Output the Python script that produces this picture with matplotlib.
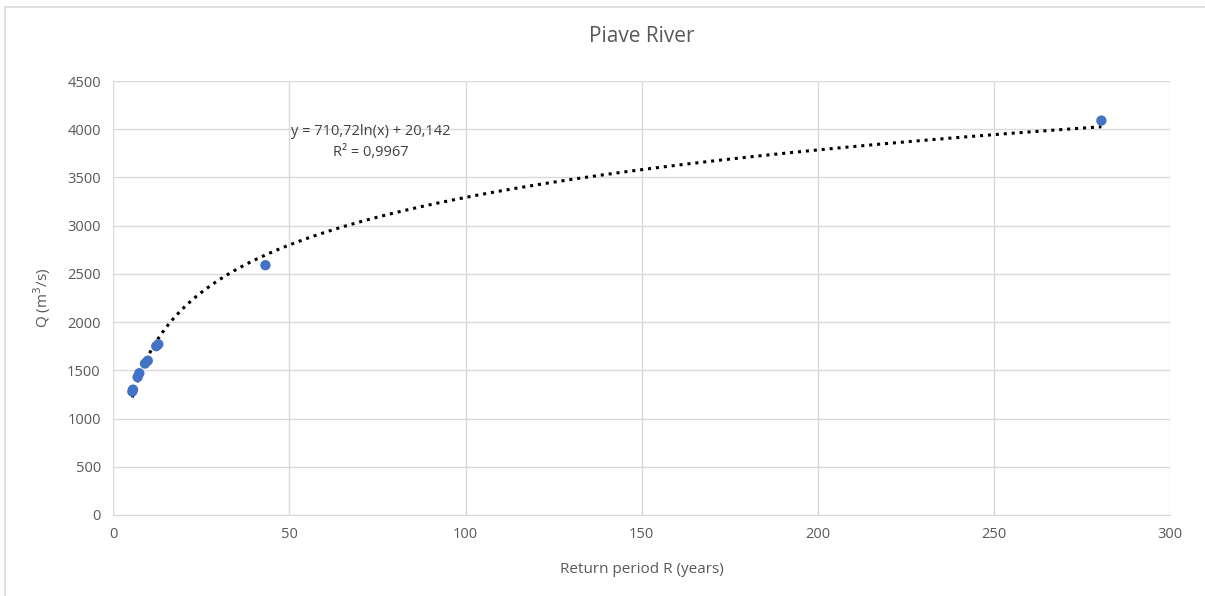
import numpy as np
import matplotlib.pyplot as plt
from matplotlib.lines import Line2D

# Observed data (return period in years, discharge in m3/s)
R = [5.4, 5.6, 6.9, 7.4, 9.0, 9.8, 12.2, 12.8, 43.2, 280.5]
Q = [1280, 1300, 1430, 1470, 1570, 1600, 1750, 1770, 2590, 4090]

# Logarithmic trendline coefficients as shown on the chart
a = 710.72
b = 20.142

grey = '#595959'
plt.rcParams['font.family'] = ['Open Sans', 'DejaVu Sans']

fig = plt.figure(figsize=(12.05, 5.96), dpi=100)
ax = fig.add_axes([0.094, 0.136, 0.877, 0.728])

# trendline
xs = np.linspace(min(R), max(R), 400)
ax.plot(xs, a * np.log(xs) + b, color='black', linestyle=(0, (1, 1.6)), lw=2.2, zorder=2)

ax.scatter(R, Q, s=55, color='#4472C4', zorder=3, edgecolors='none')

ax.set_xlim(0, 300)
ax.set_ylim(0, 4500)
ax.set_xticks(np.arange(0, 301, 50))
ax.set_yticks(np.arange(0, 4501, 500))
ax.grid(True, color='#d9d9d9', lw=1)
ax.set_axisbelow(True)
for s in ['top', 'right', 'left']:
    ax.spines[s].set_visible(False)
ax.spines['bottom'].set_color('#d9d9d9')
ax.tick_params(length=0, colors=grey, labelsize=10.5, pad=9)

ax.set_xlabel('Return period R (years)', color=grey, fontsize=11, labelpad=14)
ax.set_ylabel('Q (m$^3$/s)', color=grey, fontsize=11, labelpad=10)
ax.set_title('Piave River', color=grey, fontsize=15, pad=28)

ax.text(73, 3870, 'y = 710,72ln(x) + 20,142\nR² = 0,9967', ha='center', va='center',
        color='#404040', fontsize=10.5, linespacing=1.5)

# chart border
fig.add_artist(Line2D([0.0045, 0.0045], [0, 0.988], color='#d9d9d9', lw=1.2))
fig.add_artist(Line2D([0.0045, 1], [0.988, 0.988], color='#d9d9d9', lw=1.2))

fig.savefig('out.png', dpi=100)
